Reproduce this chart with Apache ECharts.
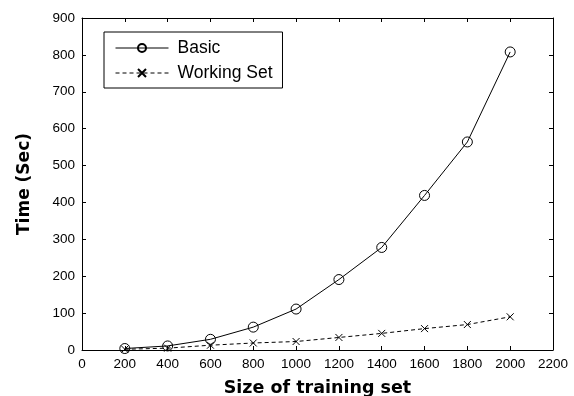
<!DOCTYPE html>
<html>
<head>
<meta charset="utf-8">
<script src="https://cdn.jsdelivr.net/npm/echarts@6/dist/echarts.min.js"></script>
<style>html,body{margin:0;padding:0;background:#fff}#c{width:574px;height:396px}</style>
</head>
<body>
<div id="c"></div>
<script>
var sizes = [200, 400, 600, 800, 1000, 1200, 1400, 1600, 1800, 2000];
var basic = [4, 11, 29, 62, 111, 191, 278, 419, 564, 808];
var workingSet = [2, 5, 13, 19, 23, 34, 45, 58, 69, 90];
var xTicks = { min: 0, max: 2200, interval: 200 };
var yTicks = { min: 0, max: 900, interval: 100 };

function pairs(xs, ys) { return xs.map(function (x, i) { return [x, ys[i]]; }); }

var chart = echarts.init(document.getElementById('c'), null, { renderer: 'canvas' });
var axisLine = { show: true, onZero: false, lineStyle: { color: '#000', width: 1 } };
var axisTick = { show: true, inside: true, length: 4, lineStyle: { color: '#000', width: 1 } };
var crossPath = 'path://M0,0L10,10M10,0L0,10';
function plain(v) { return String(v); }

chart.setOption({
  animation: false,
  backgroundColor: '#fff',
  grid: { left: 82, right: 21, top: 18, bottom: 46, containLabel: false, outerBoundsMode: 'none' },
  legend: {
    orient: 'vertical',
    left: 104, top: 32,
    padding: [7, 10, 6, 11],
    itemWidth: 53, itemHeight: 10, itemGap: 7,
    borderColor: '#000', borderWidth: 1, borderRadius: 0,
    backgroundColor: '#fff',
    lineStyle: { width: 1 },
    textStyle: { fontFamily: 'Liberation Sans, Arial, sans-serif', fontSize: 17.5, color: '#000', padding: [0, 0, 0, 4] },
    data: ['Basic', 'Working Set']
  },
  xAxis: [{
    type: 'value', min: xTicks.min, max: xTicks.max, interval: xTicks.interval,
    position: 'bottom',
    name: 'Size of training set', nameLocation: 'middle', nameGap: 29,
    nameTextStyle: { fontFamily: 'DejaVu Sans, sans-serif', fontWeight: 'bold', fontSize: 17.5, color: '#000' },
    axisLine: axisLine, axisTick: axisTick,
    axisLabel: { margin: 7, showMaxLabel: true, showMinLabel: true, hideOverlap: false, formatter: plain,
      fontFamily: 'Liberation Sans, Arial, sans-serif', fontSize: 13.5, color: '#000' },
    splitLine: { show: false }
  }, {
    type: 'value', min: xTicks.min, max: xTicks.max, interval: xTicks.interval,
    position: 'top',
    axisLine: axisLine, axisTick: axisTick, axisLabel: { show: false }, splitLine: { show: false }
  }],
  yAxis: [{
    type: 'value', min: yTicks.min, max: yTicks.max, interval: yTicks.interval,
    position: 'left',
    name: 'Time (Sec)', nameLocation: 'middle', nameGap: 49,
    nameTextStyle: { fontFamily: 'DejaVu Sans, sans-serif', fontWeight: 'bold', fontSize: 17, color: '#000' },
    axisLine: axisLine, axisTick: axisTick,
    axisLabel: { margin: 7, formatter: plain,
      fontFamily: 'Liberation Sans, Arial, sans-serif', fontSize: 13.5, color: '#000' },
    splitLine: { show: false }
  }, {
    type: 'value', min: yTicks.min, max: yTicks.max, interval: yTicks.interval,
    position: 'right',
    axisLine: axisLine, axisTick: axisTick, axisLabel: { show: false }, splitLine: { show: false }
  }],
  series: [{
    name: 'Basic', type: 'line',
    data: pairs(sizes, basic),
    symbol: 'circle', symbolSize: 10,
    lineStyle: { color: '#000', width: 1 },
    itemStyle: { color: 'rgba(255,255,255,0)', borderColor: '#000', borderWidth: 1 },
    emphasis: { disabled: true }
  }, {
    name: 'Working Set', type: 'line',
    data: pairs(sizes, workingSet),
    symbol: crossPath, symbolSize: 7,
    lineStyle: { color: '#000', width: 1, type: [4, 3] },
    itemStyle: { color: '#000', borderColor: '#000', borderWidth: 1 },
    emphasis: { disabled: true }
  }]
});
</script>
</body>
</html>
